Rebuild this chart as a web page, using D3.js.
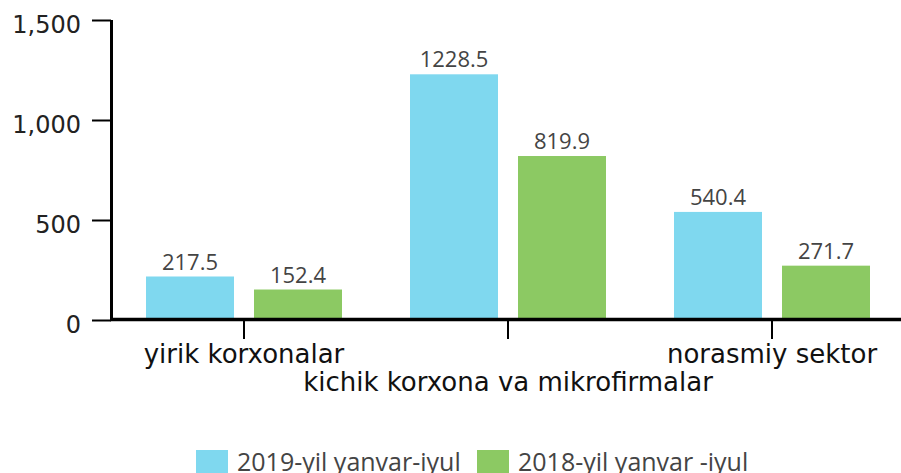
<!DOCTYPE html>
<html>
<head>
<meta charset="utf-8">
<script src="https://cdnjs.cloudflare.com/ajax/libs/d3/7.8.5/d3.min.js"></script>
<style>
  body { margin: 0; background: #fff; }
  svg { display: block; font-family: "Open Sans", "DejaVu Sans", sans-serif; }
</style>
</head>
<body>
<script>
// chart data
var categories = ["yirik korxonalar", "kichik korxona va mikrofirmalar", "norasmiy sektor"];
var seriesNames = ["2019-yil yanvar-iyul", "2018-yil yanvar -iyul"];
var values2019 = [217.5, 1228.5, 540.4];
var values2018 = [152.4, 819.9, 271.7];
var yTicks = [0, 500, 1000, 1500];
var colors = ["#7fd8ef", "#8cc963"];

var width = 901, height = 473;
var svg = d3.select("body").append("svg")
    .attr("width", width)
    .attr("height", height);

var x0 = d3.scaleBand()
    .domain(categories)
    .range([112, 904])
    .paddingInner(0)
    .paddingOuter(0);

// two bars of 88px with a 20px gap inside each 264px band
var x1 = d3.scaleBand()
    .domain(seriesNames)
    .range([34, x0.bandwidth() - 34])
    .paddingInner(20 / 108);

var y = d3.scaleLinear()
    .domain([0, 1500])
    .range([320, 20]);

var rows = categories.map(function(c, i) {
  return { cat: c, vals: [values2019[i], values2018[i]] };
});

// bars
var groups = svg.selectAll(".grp")
    .data(rows)
    .enter().append("g")
    .attr("class", "grp")
    .attr("transform", function(d) { return "translate(" + x0(d.cat) + ",0)"; });

groups.selectAll("rect")
    .data(function(d) { return d.vals.map(function(v, j) { return { s: seriesNames[j], v: v, j: j }; }); })
    .enter().append("rect")
    .attr("x", function(d) { return x1(d.s); })
    .attr("y", function(d) { return y(d.v); })
    .attr("width", x1.bandwidth())
    .attr("height", function(d) { return y(0) - y(d.v); })
    .attr("fill", function(d) { return colors[d.j]; });

groups.selectAll("text")
    .data(function(d) { return d.vals.map(function(v, j) { return { s: seriesNames[j], v: v }; }); })
    .enter().append("text")
    .attr("x", function(d) { return x1(d.s) + x1.bandwidth() / 2; })
    .attr("y", function(d) { return y(d.v) - 7; })
    .attr("text-anchor", "middle")
    .attr("font-size", "22px")
    .attr("fill", "#444")
    .text(function(d) { return d.v.toFixed(1); });

// y axis
var yAxis = svg.append("g")
    .attr("transform", "translate(111,0)")
    .call(d3.axisLeft(y).tickValues(yTicks).tickSize(19).tickPadding(11).tickFormat(d3.format(",")));
yAxis.select(".domain").remove();
yAxis.selectAll(".tick line").attr("stroke", "#000").attr("stroke-width", 2);
yAxis.selectAll(".tick text")
    .attr("font-size", "24px")
    .attr("font-family", "DejaVu Sans, sans-serif")
    .attr("fill", "#222")
    .attr("dy", "0.5em");
svg.append("line")
    .attr("x1", 111.5).attr("x2", 111.5)
    .attr("y1", 20).attr("y2", 321)
    .attr("stroke", "#000").attr("stroke-width", 3);

// x axis
var xAxis = svg.append("g")
    .attr("transform", "translate(0,319)")
    .call(d3.axisBottom(x0).tickSize(20).tickFormat(""));
xAxis.select(".domain").remove();
xAxis.selectAll(".tick line").attr("stroke", "#000").attr("stroke-width", 2);
svg.append("line")
    .attr("x1", 110).attr("x2", 904)
    .attr("y1", 319.5).attr("y2", 319.5)
    .attr("stroke", "#000").attr("stroke-width", 3.5);

svg.selectAll(".catlabel")
    .data(categories)
    .enter().append("text")
    .attr("class", "catlabel")
    .attr("x", function(d) { return x0(d) + x0.bandwidth() / 2; })
    .attr("y", function(d, i) { return i === 1 ? 391 : 363; })
    .attr("text-anchor", "middle")
    .attr("font-family", "DejaVu Sans, sans-serif")
    .attr("font-size", "26px")
    .attr("fill", "#111")
    .text(function(d) { return d; });

// legend
var legend = svg.append("g").attr("transform", "translate(196,450)");
var legX = [0, 281];
seriesNames.forEach(function(s, i) {
  legend.append("rect")
      .attr("x", legX[i]).attr("y", 0)
      .attr("width", 32).attr("height", 28)
      .attr("fill", colors[i]);
  legend.append("text")
      .attr("x", legX[i] + 41).attr("y", 21)
      .attr("font-size", "25px")
      .attr("fill", "#444")
      .text(s);
});
</script>
</body>
</html>
